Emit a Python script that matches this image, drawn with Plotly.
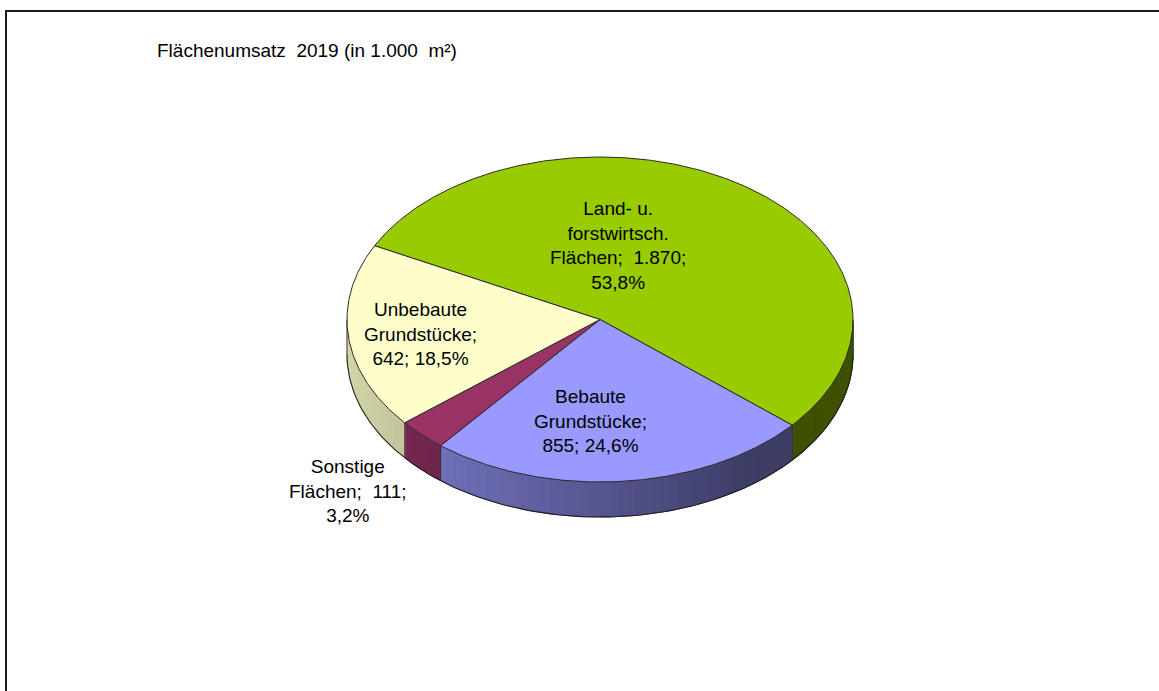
import numpy as np
import plotly.graph_objects as go

# ---------------- data ----------------
categories = ["Land- u. forstwirtsch. Flächen", "Bebaute Grundstücke",
              "Sonstige Flächen", "Unbebaute Grundstücke"]
name_lines = [["Land- u.", "forstwirtsch.", "Flächen"],
              ["Bebaute", "Grundstücke"],
              ["Sonstige", "Flächen"],
              ["Unbebaute", "Grundstücke"]]
values = [1870, 855, 111, 642]
colors = ["#99CC00", "#9999FF", "#993366", "#FFFFCC"]
value_on_name_line = [True, False, True, False]
title_text = "Flächenumsatz\u00a0\u00a02019 (in 1.000\u00a0\u00a0m²)"

# ---------------- geometry (layout) ----------------
W, H = 1159, 691
cx, cy, a, b, depth = 600.0, 319.5, 253.0, 162.5, 35.0
start_angle = 297.0  # degrees, clockwise from 12 o'clock
label_pos = [(618, 245), (590, 421), (348, 491), (420, 334)]
FONT = "Liberation Sans, Arial, sans-serif"


def pt(theta_deg, dz=0.0):
    t = np.radians(theta_deg)
    return cx + a * np.sin(t), cy - b * np.cos(t) + dz


def hex_to_rgb(h):
    h = h.lstrip("#")
    return tuple(int(h[i:i + 2], 16) for i in (0, 2, 4))


def shade(hexcol, f):
    r, g, bb = hex_to_rgb(hexcol)
    return "rgb(%d,%d,%d)" % (min(255, r * f), min(255, g * f), min(255, bb * f))


total = float(sum(values))
spans = [v / total * 360.0 for v in values]
bounds = []
acc = start_angle
for s in spans:
    bounds.append((acc, acc + s))
    acc += s

fig = go.Figure()

# ---------------- side walls (front half only) ----------------
step = 1.5
for (t0, t1), col in zip(bounds, colors):
    n = max(1, int(np.ceil((t1 - t0) / step)))
    edges = np.linspace(t0, t1, n + 1)
    for e0, e1 in zip(edges[:-1], edges[1:]):
        mid = ((e0 + e1) / 2.0) % 360.0
        if not (90.0 <= mid <= 270.0):
            continue
        base = e0 - (e0 % 360.0)
        lo = max(e0, base + 90.0)
        hi = min(e1, base + 270.0)
        if hi <= lo:
            continue
        ts = np.linspace(lo, hi, 4)
        xs_top, ys_top = pt(ts)
        xs_bot, ys_bot = pt(ts[::-1], depth)
        xs = np.concatenate([xs_top, xs_bot, xs_top[:1]])
        ys = np.concatenate([ys_top, ys_bot, ys_top[:1]])
        f = 0.56 - 0.27 * np.sin(np.radians(mid))
        f = max(0.40, f)
        c = shade(col, f)
        fig.add_trace(go.Scatter(x=xs, y=ys, mode="lines", fill="toself",
                                 fillcolor=c, line=dict(color=c, width=1),
                                 hoverinfo="skip", showlegend=False))

# side outline (bottom edge + verticals)
ts = np.linspace(90, 270, 200)
bx, by = pt(ts, depth)
fig.add_trace(go.Scatter(x=bx, y=by, mode="lines",
                         line=dict(color="#202020", width=1.1),
                         hoverinfo="skip", showlegend=False))
edge_angles = [90.0, 270.0] + [t0 % 360.0 for (t0, _) in bounds]
for ang in edge_angles:
    if 90.0 <= ang <= 270.0:
        x0, y0 = pt(ang)
        x1, y1 = pt(ang, depth)
        fig.add_trace(go.Scatter(x=[x0, x1], y=[y0, y1], mode="lines",
                                 line=dict(color="#303030", width=0.8),
                                 hoverinfo="skip", showlegend=False))

# ---------------- top face slices ----------------
for (t0, t1), col, cat, v in zip(bounds, colors, categories, values):
    ts = np.linspace(t0, t1, max(3, int((t1 - t0) * 2)))
    xs, ys = pt(ts)
    xs = np.concatenate([[cx], xs, [cx]])
    ys = np.concatenate([[cy], ys, [cy]])
    fig.add_trace(go.Scatter(x=xs, y=ys, mode="lines", fill="toself",
                             fillcolor=col, line=dict(color="#2a2a2a", width=1),
                             hoveron="fills", name=cat,
                             text="%s: %d" % (cat, v), hoverinfo="text",
                             showlegend=False))


# ---------------- labels ----------------
def fmt_int(v):
    return "{:,}".format(v).replace(",", ".")


def fmt_pct(v):
    return ("%.1f" % (v / total * 100.0)).replace(".", ",") + "%"


for lines, v, on_line, (lx, ly) in zip(name_lines, values, value_on_name_line, label_pos):
    if on_line:
        txt = "<br>".join(lines[:-1] + [lines[-1] + ";\u00a0\u00a0" + fmt_int(v) + ";", fmt_pct(v)])
    else:
        txt = "<br>".join(lines[:-1] + [lines[-1] + ";", fmt_int(v) + ";\u00a0" + fmt_pct(v)])
    fig.add_annotation(x=lx, y=ly, xref="x", yref="y", text=txt, showarrow=False,
                       align="center", xanchor="center", yanchor="middle",
                       font=dict(family=FONT, size=19, color="#000000"))

# title
fig.add_annotation(x=155, y=50, xref="x", yref="y", text=title_text, showarrow=False,
                   xanchor="left", yanchor="middle",
                   font=dict(family=FONT, size=19, color="#000000"))

# chart border
fig.add_shape(type="rect", x0=6, y0=11, x1=1200, y1=740, xref="x", yref="y",
              line=dict(color="#1a1a1a", width=2), fillcolor="rgba(0,0,0,0)", layer="above")

fig.update_layout(
    width=W, height=H,
    margin=dict(l=0, r=0, t=0, b=0),
    paper_bgcolor="white", plot_bgcolor="white",
    showlegend=False,
    xaxis=dict(range=[0, W], visible=False, fixedrange=True),
    yaxis=dict(range=[H, 0], visible=False, fixedrange=True),
    font=dict(family=FONT),
)

fig.write_html("out.html", config={"displayModeBar": False})

# remove the default page margin so the figure sits at the window origin
with open("out.html", "r", encoding="utf-8") as fh:
    html = fh.read()
html = html.replace("<head>", "<head><style>html,body{margin:0;padding:0;overflow:hidden;}</style>", 1)
with open("out.html", "w", encoding="utf-8") as fh:
    fh.write(html)
